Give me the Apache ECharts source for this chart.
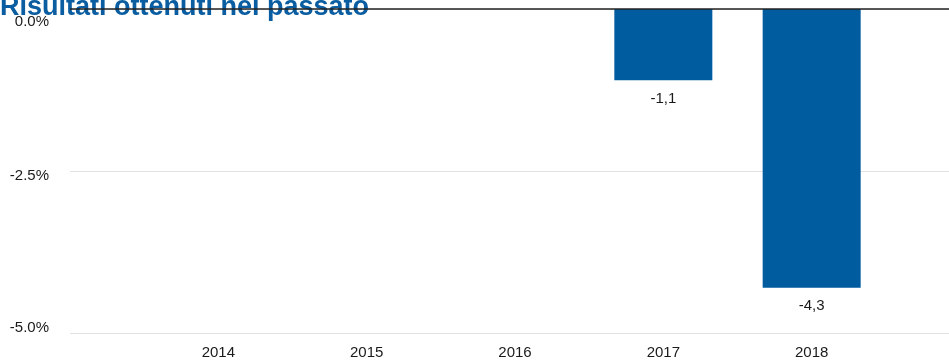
<!DOCTYPE html>
<html>
<head>
<meta charset="utf-8">
<script src="https://cdn.jsdelivr.net/npm/echarts@6/dist/echarts.min.js"></script>
<style>
html,body{margin:0;padding:0;background:#fff;}
#c{width:949px;height:362px;}
</style>
</head>
<body>
<div id="c"></div>
<script>
const titleText = 'Risultati ottenuti nel passato';
const years = ['2014', '2015', '2016', '2017', '2018'];
const values = [null, null, null, -1.1, -4.3];
const yTicks = [0, -2.5, -5];

// padding categories on both sides (unlabeled)
const cats = [''].concat(years, ['']);
const data = [null].concat(values, [null]);

const chart = echarts.init(document.getElementById('c'));
const font = '"Liberation Sans", Arial, sans-serif';
chart.setOption({
  animation: false,
  title: {
    text: titleText,
    left: 0,
    top: -6,
    z: 1,
    padding: 0,
    textStyle: { color: '#0a5da0', fontSize: 27, fontWeight: 'bold', fontFamily: font }
  },
  grid: { left: 70, width: 890, top: 9, bottom: 29, containLabel: false, outerBoundsMode: 'none' },
  xAxis: {
    type: 'category',
    data: cats,
    boundaryGap: false,
    axisLine: { show: false },
    axisTick: { show: false },
    splitLine: { show: false },
    axisLabel: { margin: 12, color: '#1a1a1a', fontSize: 15, fontFamily: font, interval: 0 }
  },
  yAxis: {
    type: 'value',
    min: -5,
    max: 0,
    interval: 2.5,
    axisLine: { show: false },
    axisTick: { show: false },
    splitLine: { lineStyle: { color: '#e2e2e2', width: 1 } },
    axisLabel: {
      margin: 21,
      color: '#1a1a1a',
      fontSize: 15,
      fontFamily: font,
      formatter: function (v) {
        const s = v.toFixed(1) + '%';
        if (v === yTicks[0]) return '{a|' + s + '}';
        if (v === yTicks[1]) return '{b|' + s + '}';
        return '{c|' + s + '}';
      },
      rich: {
        a: { padding: [26, 0, 0, 0], fontSize: 15, fontFamily: font, color: '#1a1a1a' },
        b: { padding: [10, 0, 0, 0], fontSize: 15, fontFamily: font, color: '#1a1a1a' },
        c: { padding: [0, 0, 10, 0], fontSize: 15, fontFamily: font, color: '#1a1a1a' }
      }
    }
  },
  series: [{
    type: 'bar',
    data: data,
    barWidth: 98,
    z: 3,
    itemStyle: { color: '#005b9f' },
    label: {
      show: true,
      position: 'bottom',
      distance: 11,
      color: '#1a1a1a',
      fontSize: 15,
      fontFamily: font,
      formatter: function (p) { return p.value == null ? '' : p.value.toFixed(1).replace('.', ','); }
    },
    markLine: {
      silent: true,
      symbol: 'none',
      label: { show: false },
      lineStyle: { color: '#222', width: 1.5, type: 'solid' },
      data: [{ yAxis: 0 }],
      z: 5
    }
  }]
});
</script>
</body>
</html>
